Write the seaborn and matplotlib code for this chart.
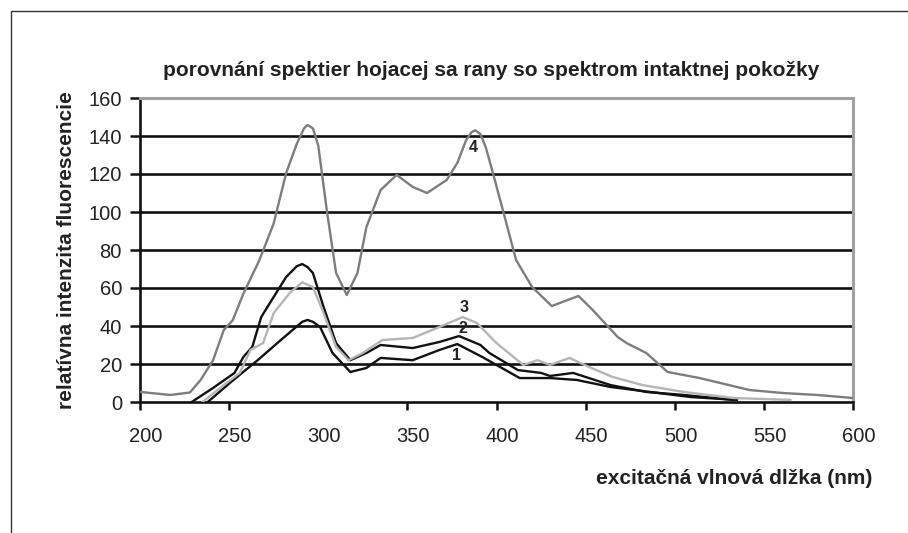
import numpy as np
import pandas as pd
import seaborn as sns
import matplotlib.pyplot as plt
from matplotlib.patches import Rectangle
from matplotlib.transforms import ScaledTranslation

# spectra (wavelength nm, relative intensity)
wl_4 = [200, 217, 228, 234, 241, 247, 252, 258, 267, 275, 282, 288, 292, 294, 297, 300, 305,
        310, 316, 322, 327, 335, 344, 353, 361, 372, 378, 383, 386, 388, 391, 394, 398, 404,
        411, 420, 431, 440, 446, 454, 468, 473, 484, 496, 514, 542, 561, 580, 600]
int_4 = [5.3, 3.7, 5.0, 11.6, 22, 37.9, 43, 57, 74.7, 94, 120.5, 136, 144, 145.8, 144, 135, 99.5,
         67.9, 56.3, 67.9, 92, 111.6, 119.5, 113.2, 110, 116.8, 125.8, 137.9, 142, 143, 141, 134, 120.5, 99.5,
         74.7, 60.5, 50.5, 53.7, 55.8, 48.4, 34.2, 31, 25.8, 15.8, 12.6, 6.3, 4.7, 3.7, 2.1]

wl_3 = [235, 247, 256, 262, 269, 275, 284, 291, 297, 303, 310, 317, 325, 336, 353,
        368, 381, 389, 400, 415, 423, 430, 441, 452, 465, 482, 505, 533, 565]
int_3 = [0, 8.9, 15.3, 27.4, 31, 46.8, 57.4, 63, 60.5, 46.8, 29, 22, 25.8, 32.6, 33.7,
         39.5, 44.7, 41.6, 31, 19.5, 22, 19.5, 23.2, 18.4, 13.2, 8.9, 5.3, 2.1, 1.1]

wl_2 = [229, 241, 253, 258, 263, 268, 275, 282, 288, 291, 294, 297, 303, 310, 318, 327, 335,
        353, 368, 379, 391, 396, 412, 425, 430, 443, 464, 484, 505, 533]
int_2 = [0, 7.4, 15.3, 23.7, 29, 44.7, 55.3, 65.8, 71.5, 72.6, 71, 67.9, 50, 31, 22, 25.8, 30,
         28.4, 31.6, 34.7, 30, 25.8, 16.8, 15.3, 13.7, 15.3, 8.9, 5.3, 3.7, 1.1]

wl_1 = [238, 251, 266, 279, 291, 294, 297, 301, 308, 318, 327, 335, 353, 368, 378, 392, 413,
        430, 445, 464, 486, 509, 535]
int_1 = [0, 10.5, 22, 32.6, 42.2, 43.2, 42.2, 39.5, 25.8, 15.8, 17.9, 23.2, 22, 27.4, 30.5, 23.7, 12.6,
         12.6, 11.6, 7.9, 5.3, 2.6, 1.1]

curve_names = ["1", "2", "3", "4"]
curve_colors = ["#111111", "#111111", "#b5b5b5", "#7d7d7d"]
# where the curve numbers sit
label_x = [377.8, 381.2, 381.8, 386.8]
label_y = [24.7, 38.9, 49.5, 133.7]

x_ticks = [200, 250, 300, 350, 400, 450, 500, 550, 600]
y_ticks = [0, 20, 40, 60, 80, 100, 120, 140, 160]

title = "porovnání spektier hojacej sa rany so spektrom intaktnej pokožky"
x_title = "excitačná vlnová dlžka (nm)"
y_title = "relatívna intenzita fluorescencie"

sns.set_style("white")
plt.rcParams["font.family"] = ["Liberation Sans", "DejaVu Sans"]

fig = plt.figure(figsize=(9.08, 5.33), dpi=100)
ax = fig.add_axes([140 / 908, 1 - 402 / 533, 713 / 908, 304 / 533])

# horizontal grid
for v in y_ticks[1:-1]:
    ax.axhline(v, color="#111111", lw=1.9, zorder=1)

curves = [(wl_1, int_1), (wl_2, int_2), (wl_3, int_3), (wl_4, int_4)]
for (wl, inten), name, col in zip(curves, curve_names, curve_colors):
    df = pd.DataFrame({"wl": wl, "intensity": inten})
    sns.lineplot(data=df, x="wl", y="intensity", ax=ax, color=col, lw=1.7,
                 sort=False, estimator=None, zorder=3)

for name, lx, ly in zip(curve_names, label_x, label_y):
    ax.text(lx, ly, name, ha="center", va="center", fontsize=11.5, fontweight="bold",
            color="#222222", zorder=4)

ax.set_xlim(200, 600)
ax.set_ylim(0, 160)
ax.set_xticks(x_ticks)
ax.set_yticks(y_ticks)
ax.set_xticklabels([str(t) for t in x_ticks])
ax.set_yticklabels([str(t) for t in y_ticks])

for side in ["left", "bottom"]:
    ax.spines[side].set_color("#111111")
    ax.spines[side].set_linewidth(1.9)
for side in ["top", "right"]:
    ax.spines[side].set_color("#a0a0a0")
    ax.spines[side].set_linewidth(2.2)
ax.spines["left"].set_zorder(2)

ax.tick_params(axis="y", direction="out", length=7, width=1.8, color="#111111",
               pad=6, labelsize=14.5, labelcolor="#222222", left=True)
ax.tick_params(axis="x", direction="out", length=6, width=1.8, color="#111111",
               pad=12, labelsize=14.5, labelcolor="#222222", bottom=True)
# the original has no tick mark at 300
ax.xaxis.get_major_ticks()[2].tick1line.set_visible(False)
shift = ScaledTranslation(6 / 100, 0, fig.dpi_scale_trans)
for lab in ax.get_xticklabels():
    lab.set_transform(lab.get_transform() + shift)

ax.set_xlabel(x_title, fontsize=15, fontweight="bold", color="#222222", ha="right", va="center")
ax.xaxis.set_label_coords((872 - 140) / 713, (402 - 478) / 304)
ax.set_ylabel(y_title, fontsize=15, fontweight="bold", color="#222222", va="center")
ax.yaxis.set_label_coords((67 - 140) / 713, 0.5)
ax.set_title(title, fontsize=15, fontweight="bold", color="#222222",
             x=(491 - 140) / 713, y=(402 - 70) / 304, va="center", pad=0)

# outer chart frame
fig.add_artist(Rectangle((11 / 908, -0.1), 1.0, 1.1 - 11 / 533, transform=fig.transFigure,
                         fill=False, edgecolor="#333333", lw=1.0))

fig.savefig("out.png", dpi=100)
